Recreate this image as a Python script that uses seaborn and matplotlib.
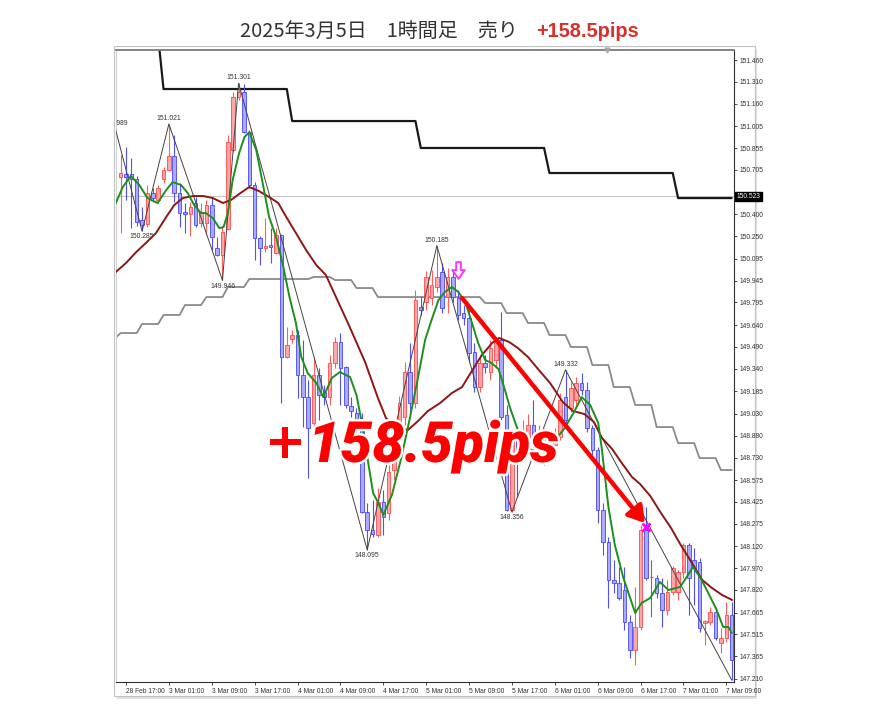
import numpy as np
import pandas as pd
import matplotlib
matplotlib.use("Agg")
import matplotlib.pyplot as plt
import matplotlib.transforms as mtransforms
import matplotlib.patheffects as pe
from matplotlib.patches import Rectangle
from matplotlib.path import Path
import seaborn as sns

# ---------------- data ----------------
bars = list(range(-1, 114))
opens = [150.656, 150.677, 150.677, 150.643, 150.361, 150.334, 150.547, 150.499, 150.643, 150.704,
         150.801, 150.547, 150.416, 150.402, 150.478, 150.341, 150.341, 150.464, 150.169, 150.121,
         150.300, 150.842, 151.206, 151.240, 150.965, 150.601, 150.238, 150.169, 150.189, 150.134,
         150.258, 149.420, 149.544, 149.571, 149.297, 149.145, 148.967, 149.297, 149.180, 149.145,
         149.379, 149.523, 149.352, 149.084, 149.036, 148.919, 148.356, 148.232, 148.198, 148.424,
         148.349, 148.644, 148.919, 149.008, 149.317, 149.104, 149.764, 149.798, 149.825, 149.901,
         150.004, 149.832, 149.970, 149.825, 149.722, 149.688, 149.455, 149.214, 149.379, 149.317,
         149.400, 149.537, 149.022, 148.369, 148.850, 148.747, 148.864, 148.953, 148.850, 148.816,
         148.816, 148.816, 148.871, 149.145, 149.070, 149.125, 149.242, 149.193, 148.933, 148.781,
         148.369, 148.150, 147.889, 147.868, 147.820, 147.600, 147.408, 147.566, 148.232, 147.909,
         147.902, 147.799, 147.683, 147.806, 147.806, 147.944, 148.129, 148.026, 148.012, 147.593,
         147.600, 147.669, 147.456, 147.490, 147.648]
highs = [150.808, 150.862, 150.787, 150.663, 150.450, 150.601, 150.581, 150.601, 150.725, 151.021,
         150.945, 150.615, 150.478, 150.485, 150.519, 150.478, 150.499, 150.512, 150.244, 150.313,
         150.945, 151.240, 151.301, 151.295, 150.979, 150.622, 150.251, 150.375, 150.306, 150.306,
         150.265, 149.626, 149.606, 149.606, 149.537, 149.262, 149.420, 149.345, 149.228, 149.434,
         149.558, 149.585, 149.358, 149.145, 149.070, 149.036, 148.417, 148.438, 148.520, 148.507,
         148.678, 148.987, 149.152, 149.386, 149.516, 149.880, 149.839, 150.011, 150.018, 150.185,
         150.066, 150.031, 150.018, 149.880, 149.777, 149.743, 149.516, 149.434, 149.434, 149.537,
         149.558, 149.729, 149.091, 148.884, 148.939, 148.987, 149.029, 149.125, 148.953, 148.933,
         148.898, 148.933, 149.173, 149.332, 149.248, 149.283, 149.310, 149.248, 148.953, 148.802,
         148.417, 148.184, 148.026, 147.978, 147.978, 147.648, 147.841, 148.266, 148.390, 148.026,
         147.923, 147.902, 147.889, 147.985, 147.957, 148.143, 148.143, 148.108, 148.040, 147.614,
         147.703, 147.703, 147.559, 147.738, 147.738]
lows = [150.272, 150.499, 150.306, 150.320, 150.285, 150.313, 150.485, 150.478, 150.615, 150.698,
        150.485, 150.313, 150.272, 150.251, 150.313, 150.313, 150.265, 150.155, 150.114, 149.946,
        150.290, 150.828, 151.185, 150.959, 150.581, 150.086, 150.052, 150.141, 150.066, 150.128,
        149.104, 149.413, 149.516, 149.139, 148.939, 148.589, 148.939, 148.987, 149.091, 149.091,
        149.345, 149.091, 149.070, 149.008, 148.919, 148.349, 148.095, 148.184, 148.184, 148.198,
        148.301, 148.575, 148.864, 148.953, 149.042, 149.070, 149.709, 149.743, 149.777, 149.867,
        149.722, 149.722, 149.798, 149.674, 149.640, 149.386, 149.180, 149.180, 149.310, 149.262,
        149.345, 148.987, 148.360, 148.356, 148.459, 148.699, 148.816, 148.836, 148.768, 148.678,
        148.747, 148.713, 148.850, 148.953, 149.042, 149.091, 149.159, 148.905, 148.747, 148.280,
        148.060, 147.696, 147.799, 147.751, 147.545, 147.353, 147.305, 147.545, 147.889, 147.635,
        147.765, 147.566, 147.648, 147.786, 147.751, 147.902, 147.648, 147.717, 147.531, 147.442,
        147.580, 147.476, 147.387, 147.463, 147.202]
closes = [150.684, 150.656, 150.643, 150.347, 150.327, 150.547, 150.512, 150.581, 150.704, 150.801,
          150.547, 150.409, 150.402, 150.450, 150.327, 150.409, 150.464, 150.244, 150.121, 150.279,
          150.897, 151.206, 151.240, 150.965, 150.601, 150.238, 150.169, 150.182, 150.176, 150.258,
          149.420, 149.503, 149.571, 149.297, 149.145, 148.933, 149.297, 149.159, 149.145, 149.379,
          149.523, 149.345, 149.091, 149.049, 148.987, 148.356, 148.232, 148.204, 148.424, 148.321,
          148.630, 148.919, 149.104, 149.317, 149.104, 149.812, 149.743, 149.970, 149.915, 149.970,
          149.757, 149.970, 149.832, 149.709, 149.688, 149.448, 149.214, 149.379, 149.352, 149.482,
          149.523, 149.008, 148.369, 148.850, 148.747, 148.919, 148.953, 148.871, 148.905, 148.884,
          148.829, 148.871, 149.125, 148.987, 149.207, 149.242, 149.193, 148.933, 148.781, 148.369,
          148.150, 147.889, 147.868, 147.765, 147.600, 147.408, 147.566, 148.232, 147.902, 147.909,
          147.799, 147.683, 147.806, 147.971, 147.944, 148.129, 147.902, 147.971, 147.559, 147.607,
          147.669, 147.490, 147.490, 147.648, 147.339]

# short (green) and long (dark red) moving averages, read at sampled bar positions
ma_fast_bars = [-1.9, -0.6, 0.9, 2.5, 4.0, 5.9, 7.5, 8.7, 10.3, 11.5, 12.7, 14.0, 14.9, 16.2, 17.4,
                18.2, 19.0, 19.9, 21.1, 22.1, 23.0, 24.3, 25.5, 26.7, 28.0, 29.2, 30.5, 31.7, 32.7,
                33.9, 35.5, 36.8, 38.4, 39.9, 41.8, 43.0, 44.0, 45.2, 46.1, 47.1, 48.0, 49.6, 51.4,
                53.0, 54.5, 55.8, 57.0, 58.3, 59.5, 60.8, 62.0, 63.3, 64.5, 65.7, 67.0, 68.2, 69.5,
                70.7, 71.6, 72.9, 74.4, 75.7, 77.2, 78.7, 80.0, 81.6, 83.5, 85.0, 86.6, 88.1, 88.8,
                90.0, 91.2, 92.8, 95.0, 96.2, 97.8, 99.6, 101.2, 103.4, 105.8, 107.4, 109.0, 110.2,
                111.4, 112.4, 113.0]
ma_fast_vals = [150.478, 150.588, 150.663, 150.601, 150.512, 150.478, 150.567, 150.622, 150.601,
                150.547, 150.464, 150.409, 150.409, 150.375, 150.306, 150.313, 150.409, 150.636,
                150.821, 150.931, 150.965, 150.842, 150.615, 150.382, 150.244, 150.066, 149.832,
                149.654, 149.420, 149.310, 149.242, 149.145, 149.276, 149.317, 149.283, 149.159,
                148.967, 148.692, 148.486, 148.417, 148.335, 148.472, 148.733, 149.008, 149.283,
                149.537, 149.674, 149.812, 149.867, 149.901, 149.867, 149.798, 149.660, 149.516,
                149.400, 149.379, 149.338, 149.193, 149.077, 148.939, 148.802, 148.781, 148.768,
                148.802, 148.850, 148.919, 149.036, 149.145, 149.091, 148.967, 148.781, 148.390,
                148.129, 147.902, 147.662, 147.731, 147.765, 147.875, 147.820, 147.841, 147.978,
                147.889, 147.772, 147.683, 147.566, 147.566, 147.525]
ma_slow_bars = [-1.9, 0, 1.9, 3.7, 5.6, 7.5, 9.0, 10.6, 12.5, 14.4, 16.2, 18.1, 19.6, 21.1, 23.0,
                24.8, 26.7, 28.4, 29.9, 31.7, 33.6, 35.5, 37.3, 39.0, 41.4, 44.6, 47.0, 48.5, 50.6,
                52.6, 54.5, 56.3, 58.6, 60.8, 62.7, 64.4, 66.4, 68.3, 69.6, 71.5, 73.1, 75.0, 76.7,
                79.1, 81.5, 83.4, 85.5, 87.3, 88.8, 90.7, 92.5, 94.4, 95.9, 97.8, 99.8, 101.7,
                103.5, 105.6, 107.5, 109.3, 111.2, 113.1]
ma_slow_vals = [150.004, 150.066, 150.141, 150.203, 150.272, 150.382, 150.464, 150.512, 150.526,
                150.526, 150.512, 150.478, 150.499, 150.540, 150.588, 150.560, 150.519, 150.478,
                150.382, 150.272, 150.155, 150.052, 149.983, 149.846, 149.654, 149.386, 149.139,
                149.001, 148.939, 148.919, 148.981, 149.049, 149.104, 149.173, 149.214, 149.317,
                149.434, 149.516, 149.551, 149.523, 149.482, 149.420, 149.345, 149.242, 149.111,
                149.049, 149.029, 148.974, 148.864, 148.788, 148.692, 148.596, 148.548, 148.466,
                148.349, 148.245, 148.129, 148.005, 147.889, 147.834, 147.786, 147.751]

# zigzag pivots
zz_bars = [-2, 3, 8, 18, 21, 45, 58, 72, 82, 113]
zz_vals = [150.989, 150.285, 151.021, 149.946, 151.301, 148.095, 150.185, 148.356, 149.332, 147.202]
zz_is_high = [True, False, True, False, True, False, True, False, True, False]

# stepped lines: level and the bar where it starts
black_start_bars = [-2, 7, 31, 55, 79, 103]
black_levels = [151.620, 151.261, 151.041, 150.856, 150.684, 150.512]
gray_start_bars = [-2, -1, 3, 7, 11, 15, 19, 23, 35, 39, 43, 47, 67, 71, 75, 79, 83, 87, 91, 95,
                   99, 103, 107, 111]
gray_levels = [149.551, 149.585, 149.647, 149.709, 149.777, 149.832, 149.901, 149.956, 149.970,
               149.949, 149.894, 149.832, 149.791, 149.722, 149.654, 149.571, 149.489, 149.365,
               149.214, 149.091, 148.939, 148.829, 148.726, 148.644]

current_price = 150.523
x_tick_bars = list(range(0, 113, 8))
x_tick_labels = ["28 Feb 17:00", "3 Mar 01:00", "3 Mar 09:00", "3 Mar 17:00", "4 Mar 01:00",
                 "4 Mar 09:00", "4 Mar 17:00", "5 Mar 01:00", "5 Mar 09:00", "5 Mar 17:00",
                 "6 Mar 01:00", "6 Mar 09:00", "6 Mar 17:00", "7 Mar 01:00", "7 Mar 09:00"]
y_ticks = [151.460, 151.310, 151.160, 151.005, 150.855, 150.705, 150.400, 150.250, 150.095,
           149.945, 149.795, 149.640, 149.490, 149.340, 149.185, 149.030, 148.880, 148.730,
           148.575, 148.425, 148.275, 148.120, 147.970, 147.820, 147.665, 147.515, 147.365,
           147.210]

entry_bar, entry_price = 62.7, 149.825
exit_bar, exit_price = 96.8, 148.280
sell_signal_bar, sell_signal_price = 62.0, 150.018
exit_mark_bar, exit_mark_price = 97.0, 148.253

title_main = "2025年3月5日　1時間足　売り"
title_result = "+158.5pips"
big_label = "158.5pips"

# ---------------- styling / figure ----------------
sns.set_theme(style="white")
plt.rcParams["font.family"] = ["Liberation Sans", "DejaVu Sans"]

W, H = 882, 721
fig = plt.figure(figsize=(W / 100, H / 100), dpi=100)
fig.patch.set_facecolor("white")


def fx(px):
    return px / W


def fy(py):
    return 1 - py / H


shadow = Rectangle((fx(117), fy(699)), fx(757) - fx(117), fy(49) - fy(699),
                   transform=fig.transFigure, facecolor="#e2e2e2", edgecolor="none", zorder=-3)
frame = Rectangle((fx(114), fy(696)), fx(755) - fx(114), fy(46) - fy(696),
                  transform=fig.transFigure, facecolor="white", edgecolor="#c2c2c2", lw=0.8, zorder=-2)
fig.patches.extend([shadow, frame])

ax = fig.add_axes([fx(116), fy(682), fx(734) - fx(116), fy(50) - fy(682)])
ax.set_facecolor("white")
ax.set_xlim(-1.866, 113.43)
ax.set_ylim(147.188, 151.529)

df = pd.DataFrame({"bar": bars, "open": opens, "high": highs, "low": lows, "close": closes})
up = df["close"] > df["open"]
down = df["close"] < df["open"]
flat = ~(up | down)
body_bottom = np.minimum(df["open"], df["close"])
body_h = (df["close"] - df["open"]).abs()

# current price line
ax.axhline(current_price, color="#c6c6c6", lw=0.8, zorder=1)

# stepped lines (per bar)
step_bars = np.arange(-2, 114)
black_series = np.array(black_levels)[np.searchsorted(black_start_bars, step_bars, side="right") - 1]
gray_series = np.array(gray_levels)[np.searchsorted(gray_start_bars, step_bars, side="right") - 1]
sns.lineplot(x=step_bars, y=gray_series, ax=ax, color="#8a8a8a", lw=1.3,
             estimator=None, sort=False, zorder=2)
sns.lineplot(x=step_bars, y=black_series, ax=ax, color="#1a1a1a", lw=1.6,
             estimator=None, sort=False, zorder=2)

# candles
ax.vlines(df["bar"][up], df["low"][up], df["high"][up], color="#ff5c5c", lw=0.8, zorder=3)
ax.vlines(df["bar"][down], df["low"][down], df["high"][down], color="#4f4fff", lw=0.8, zorder=3)
ax.vlines(df["bar"][flat], df["low"][flat], df["high"][flat], color="#707070", lw=0.8, zorder=3)
ax.bar(df["bar"][up], body_h[up], bottom=body_bottom[up], width=0.66,
       color="#ffa6a6", edgecolor="#ff4848", linewidth=0.6, zorder=4)
ax.bar(df["bar"][down], body_h[down], bottom=body_bottom[down], width=0.66,
       color="#aaaaff", edgecolor="#4646ff", linewidth=0.6, zorder=4)
ax.hlines(df["close"][flat], df["bar"][flat] - 0.33, df["bar"][flat] + 0.33,
          color="#707070", lw=0.8, zorder=4)

# zigzag
sns.lineplot(x=zz_bars, y=zz_vals, ax=ax, color="#444444", lw=0.7,
             estimator=None, sort=False, zorder=5)
for b, v, hi in list(zip(zz_bars, zz_vals, zz_is_high))[:-1]:
    ax.annotate(f"{v:.3f}", xy=(b, v), xytext=(0, 1.5 if hi else -1.5),
                textcoords="offset points", ha="center", va="bottom" if hi else "top",
                fontsize=4.9, color="#333333", zorder=6, annotation_clip=False, clip_on=True)

# moving averages
sns.lineplot(x=ma_slow_bars, y=ma_slow_vals, ax=ax, color="#8e1616", lw=1.4,
             estimator=None, sort=False, zorder=6)
sns.lineplot(x=ma_fast_bars, y=ma_fast_vals, ax=ax, color="#1d8f1d", lw=1.4,
             estimator=None, sort=False, zorder=7)

# trade annotations
ax.annotate("", xy=(exit_bar, exit_price), xytext=(entry_bar, entry_price),
            arrowprops=dict(arrowstyle="-|>,head_length=0.8,head_width=0.5", color="#ff0000",
                            lw=3.2, mutation_scale=12, shrinkA=0, shrinkB=0), zorder=8)
hollow_down = Path([(-0.28, 1.0), (0.28, 1.0), (0.28, 0.05), (0.75, 0.05), (0.0, -1.0),
                    (-0.75, 0.05), (-0.28, 0.05), (-0.28, 1.0)],
                   [Path.MOVETO] + [Path.LINETO] * 6 + [Path.CLOSEPOLY])
ax.plot([sell_signal_bar], [sell_signal_price], marker=hollow_down, ms=12,
        markerfacecolor="white", markeredgecolor="#ff33ff", mew=1.4, zorder=9)
ax.plot([exit_mark_bar], [exit_mark_price], marker="x", color="#ff00ff", ms=6, mew=2, zorder=9)

outline = [pe.withStroke(linewidth=3.5, foreground="white")]
ax.text(29.7, 148.823, "+", fontsize=36, color="#ff0000", weight="bold", ha="center",
        va="center", family=["DejaVu Sans"], path_effects=outline, zorder=10)
ax.text(34.0, 148.699, big_label, fontsize=41, color="#ff0000", weight="black", style="italic",
        ha="left", va="baseline", family=["Roboto", "Lato", "DejaVu Sans"],
        path_effects=outline, zorder=10)

# axes / ticks
for side, col, lw in [("top", "#7a7a7a", 1.3), ("left", "#d0d0d0", 0.8),
                      ("right", "#303030", 0.8), ("bottom", "#303030", 0.8)]:
    ax.spines[side].set_visible(True)
    ax.spines[side].set_color(col)
    ax.spines[side].set_linewidth(lw)

ax.yaxis.tick_right()
ax.set_yticks(y_ticks)
ax.set_yticklabels([f"{v:.3f}" for v in y_ticks])
ax.set_xticks(x_tick_bars)
ax.set_xticklabels(x_tick_labels)
for lab in ax.get_xticklabels():
    lab.set_ha("left")
ax.tick_params(axis="both", which="both", labelsize=4.8, colors="#303030", length=2.5,
               width=0.6, pad=1.5)
ax.tick_params(axis="y", left=False, right=True)
ax.tick_params(axis="x", bottom=True, top=False)
ax.set_xlabel("")
ax.set_ylabel("")
ax.grid(False)

blend = mtransforms.blended_transform_factory(ax.transAxes, ax.transData)
ax.text(1.004, current_price, f"{current_price:.3f}", transform=blend, ha="left", va="center",
        fontsize=4.8, color="white", clip_on=False, zorder=12,
        bbox=dict(facecolor="black", edgecolor="black", pad=0.9))
ax.plot([0.795], [1.0], marker="v", color="#a8a8a8", ms=3.5, transform=ax.transAxes,
        clip_on=False, zorder=12)

# title in two colours
t1 = fig.text(fx(240), fy(37), title_main, fontsize=14.4, color="#333333", ha="left",
              va="baseline", family=["Noto Sans CJK JP", "DejaVu Sans"])
fig.canvas.draw()
r = fig.canvas.get_renderer()
bb = t1.get_window_extent(r)
fig.text(fx(bb.x1 + 18), fy(37), title_result, fontsize=14.4, color="#d9302a", weight="bold",
         ha="left", va="baseline", family=["Liberation Sans", "DejaVu Sans"])

fig.savefig("out.png", dpi=100, facecolor="white")
